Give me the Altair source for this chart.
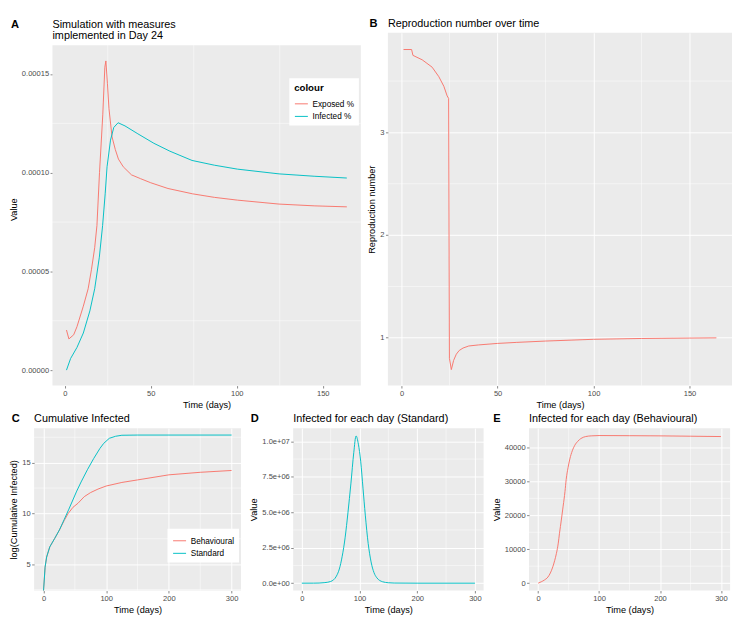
import altair as alt
import pandas as pd

FONT = "Liberation Sans"
RED = "#F8766D"
CYAN = "#00BFC4"
BG = "#EBEBEB"

# ---------------- Panel A: Simulation with measures ----------------
a_exp_day = [1, 2.4, 5.2, 7.1, 10.8, 13.6, 15.5, 17.4, 18.7, 20.2, 22.1, 23.3, 23.9,
             24.8, 25.7, 27.5, 29.4, 31.2, 34, 38.8, 44, 50, 60, 74.3, 87, 100.4,
             124.6, 145, 164]
a_exp_val = [2.03e-5, 1.58e-5, 1.79e-5, 2.2e-5, 3.24e-5, 4.12e-5, 5.08e-5, 6.2e-5,
             7.32e-5, 1.0e-4, 1.293e-4, 1.534e-4, 1.566e-4, 1.453e-4, 1.325e-4,
             1.181e-4, 1.117e-4, 1.069e-4, 1.03e-4, 9.89e-5, 9.7e-5, 9.49e-5, 9.2e-5,
             8.93e-5, 8.75e-5, 8.61e-5, 8.41e-5, 8.32e-5, 8.27e-5]
a_inf_day = [1, 3.4, 7.1, 10.8, 14.6, 17.4, 20.1, 22.0, 23.5, 24.6, 26.6, 28.5, 31,
             35, 42.5, 51.8, 61.1, 74, 87, 100.4, 124.6, 145, 164]
a_inf_val = [0, 5.9e-6, 1.15e-5, 1.88e-5, 3.0e-5, 4.12e-5, 5.72e-5, 7.32e-5, 8.93e-5,
             1.03e-4, 1.165e-4, 1.229e-4, 1.253e-4, 1.237e-4, 1.197e-4, 1.149e-4,
             1.109e-4, 1.062e-4, 1.038e-4, 1.018e-4, 9.94e-5, 9.82e-5, 9.73e-5]
a_series = ["Exposed %", "Infected %"]

# ---------------- Panel B: Reproduction number ----------------
b_day = [1, 5.2, 5.9, 10.7, 15.9, 19.4, 22.0, 23.7, 24.5, 24.9, 25.9, 27.1, 28.5, 30,
         32, 35, 40, 50, 60, 75, 100, 125, 150, 164]
b_val = [3.807, 3.807, 3.75, 3.707, 3.635, 3.542, 3.449, 3.356, 3.33, 0.80, 0.69,
         0.78, 0.84, 0.876, 0.90, 0.92, 0.93, 0.945, 0.955, 0.968, 0.985, 0.993,
         0.997, 0.999]

# ---------------- Panel C: Cumulative infected (log) ----------------
c_beh_day = [0, 2.5, 5, 10, 17.8, 25.4, 33, 39.4, 47, 55, 65, 75, 87, 100, 125, 150,
             200, 250, 300]
c_beh_val = [2.3, 4.7, 5.7, 6.7, 7.53, 8.37, 9.3, 10.0, 10.6, 11.0, 11.65, 12.05,
             12.4, 12.7, 13.05, 13.3, 13.8, 14.05, 14.23]
c_std_day = [0, 2.5, 5, 10, 17.8, 25.4, 33, 40, 53, 60, 70, 80, 90, 96, 105, 115,
             125, 150, 200, 300]
c_std_val = [2.3, 4.7, 5.7, 6.7, 7.53, 8.37, 9.4, 10.35, 12.2, 13.1, 14.3, 15.4,
             16.4, 16.9, 17.4, 17.6, 17.7, 17.72, 17.72, 17.72]
c_series = ["Behavioural", "Standard"]

# ---------------- Panel D: Infected each day (Standard) ----------------
d_day = [0, 20, 30, 40, 50, 60, 65, 70, 75, 80, 85, 90, 94, 98, 102, 106, 110, 115,
         120, 125, 130, 140, 150, 160, 200, 300]
d_val = [0, 2e3, 1e4, 4e4, 1.2e5, 5e5, 1.0e6, 1.9e6, 3.2e6, 5.0e6, 7.0e6, 9.2e6,
         1.038e7, 9.8e6, 8.6e6, 6.7e6, 4.8e6, 2.8e6, 1.5e6, 7.5e5, 3.8e5, 1.0e5,
         3e4, 1e4, 0, 0]

# ---------------- Panel E: Infected each day (Behavioural) ----------------
e_day = [0, 5, 10, 16, 20, 24, 27, 30, 33, 35, 38, 41, 44, 46, 49, 52, 56, 60, 65,
         70, 78, 87, 100, 150, 200, 250, 300]
e_val = [0, 400, 900, 1800, 3000, 4800, 6600, 8800, 11800, 14700, 18600, 22700,
         27000, 30600, 34000, 36600, 39000, 40600, 41800, 42600, 43200, 43400,
         43500, 43450, 43400, 43300, 43200]


def long_df(days_list, vals_list, names):
    rows = []
    for d_arr, v_arr, n in zip(days_list, vals_list, names):
        for d, v in zip(d_arr, v_arr):
            rows.append({"day": d, "val": v, "series": n})
    return pd.DataFrame(rows)


def enc_x(dom, vals, **kw):
    return alt.X("day:Q", scale=alt.Scale(domain=dom, nice=False, zero=False),
                 axis=alt.Axis(values=vals, title="Time (days)", format="d", **kw))


def enc_y(dom, vals, title, **kw):
    return alt.Y("val:Q", scale=alt.Scale(domain=dom, nice=False, zero=False),
                 axis=alt.Axis(values=vals, title=title, **kw))


def minor_rules(xs, ys, X, Y):
    xr = alt.Chart(pd.DataFrame({"day": xs})).mark_rule(
        color="white", strokeWidth=0.5).encode(x=X)
    yr = alt.Chart(pd.DataFrame({"val": ys})).mark_rule(
        color="white", strokeWidth=0.5).encode(y=Y)
    return [xr, yr]


def label(text, dx, dy, bold=False, size=11.2):
    return alt.Chart(pd.DataFrame({"t": [text]})).mark_text(
        align="left", baseline="alphabetic", fontWeight="bold" if bold else "normal",
        fontSize=size, font=FONT, color="black").encode(
        text="t:N", x=alt.value(dx), y=alt.value(dy))


# ---- A ----
# A shares its top row with B: its panel sits SHIFT_Y lower and its axis block is
# wider than C's, so the view is padded on the left/top and the grey panel is a rect.
SHIFT_X, SHIFT_Y = 19, 13
A_W = 319
B_H = 365
A_H = B_H - SHIFT_Y
a_xvis = [-7.15, 172.15]
a_yvis = [-7.85e-6, 1.645e-4]
a_xdom = [a_xvis[0] - SHIFT_X * (a_xvis[1] - a_xvis[0]) / A_W, a_xvis[1]]
a_ydom = [a_yvis[0], a_yvis[1] + SHIFT_Y * (a_yvis[1] - a_yvis[0]) / A_H]
XA = enc_x(a_xdom, [0, 50, 100, 150], titleX=SHIFT_X + A_W / 2)
YA = enc_y(a_ydom, [0, 5e-5, 1e-4, 1.5e-4], "Value", format=".5f", offset=-SHIFT_X)
a_panel = alt.Chart(pd.DataFrame({"day": [a_xvis[0]], "day2": [a_xvis[1]],
                                  "val": [a_yvis[0]], "val2": [a_yvis[1]]})).mark_rect(
    color=BG).encode(x=XA, x2="day2:Q", y=YA, y2="val2:Q")
a_df = long_df([a_exp_day, a_inf_day], [a_exp_val, a_inf_val], a_series)
a_line = alt.Chart(a_df).mark_line(strokeWidth=1, clip=True).encode(
    x=XA, y=YA,
    color=alt.Color("series:N", scale=alt.Scale(domain=a_series, range=[RED, CYAN]),
                    legend=alt.Legend(title="colour", orient="none",
                                      legendX=SHIFT_X + A_W - 74,
                                      legendY=SHIFT_Y + 34, fillColor="white", padding=5,
                                      symbolType="stroke", symbolSize=180,
                                      symbolStrokeWidth=1, titleFontSize=10,
                                      titleFontWeight="bold", titleFont=FONT,
                                      labelFont=FONT, labelFontSize=8.5,
                                      labelColor="black", rowPadding=1,
                                      titlePadding=4)),
    detail="series:N")
chart_a = alt.layer(
    a_panel,
    *minor_rules([25, 75, 125], [2.5e-5, 7.5e-5, 1.25e-4], XA, YA),
    a_line,
    label("A", SHIFT_X - 43, -5, bold=True, size=11.5),
    label("Simulation with measures", SHIFT_X, -5),
    label("implemented in Day 24", SHIFT_X, 6),
).properties(width=A_W + SHIFT_X, height=B_H,
             view=alt.ViewBackground(fill="white", stroke="white", strokeWidth=0))

# ---- B ----
B_W = 356
XB = enc_x([-7.15, 172.15], [0, 50, 100, 150])
YB = enc_y([0.534, 3.97], [1, 2, 3], "Reproduction number", format="d")
b_line = alt.Chart(pd.DataFrame({"day": b_day, "val": b_val})).mark_line(
    strokeWidth=1, color=RED, clip=True).encode(x=XB, y=YB)
chart_b = alt.layer(
    *minor_rules([25, 75, 125], [1.5, 2.5, 3.5], XB, YB),
    b_line,
    label("B", -19, -6, bold=True, size=11.5),
    label("Reproduction number over time", 0, -6),
).properties(width=B_W, height=B_H)

# ---- C ----
C_W, C_H = 214, 168
XC = enc_x([-15, 315], [0, 100, 200, 300])
YC = enc_y([2.4, 18.4], [5, 10, 15], "log(Cumulative Infected)", format="d")
c_df = long_df([c_beh_day, c_std_day], [c_beh_val, c_std_val], c_series)
c_line = alt.Chart(c_df).mark_line(strokeWidth=1, clip=True).encode(
    x=XC, y=YC,
    color=alt.Color("series:N", scale=alt.Scale(domain=c_series, range=[RED, CYAN]),
                    legend=alt.Legend(title=None, orient="none", legendX=C_W - 76,
                                      legendY=104, fillColor="white", padding=5,
                                      symbolType="stroke", symbolSize=180,
                                      symbolStrokeWidth=1, labelFont=FONT,
                                      labelFontSize=8.5, labelColor="black",
                                      rowPadding=1)),
    detail="series:N")
chart_c = alt.layer(
    *minor_rules([50, 150, 250], [2.5, 7.5, 12.5, 17.5], XC, YC),
    c_line,
    label("C", -23, -6, bold=True, size=11.5),
    label("Cumulative Infected", 0, -6),
).properties(width=C_W, height=C_H)

# ---- D ----
D_W, D_H = 197, 168
XD = enc_x([-15, 315], [0, 100, 200, 300])
YD = enc_y([-5.2e5, 1.093e7], [0, 2.5e6, 5e6, 7.5e6, 1e7], "Value",
           labelExpr="replace(format(datum.value, '.1e'), regexp('e\\\\+(\\\\d)$'), 'e+0$1')")
d_line = alt.Chart(pd.DataFrame({"day": d_day, "val": d_val})).mark_line(
    strokeWidth=1, color=CYAN, clip=True, interpolate="monotone").encode(x=XD, y=YD)
chart_d = alt.layer(
    *minor_rules([50, 150, 250], [1.25e6, 3.75e6, 6.25e6, 8.75e6], XD, YD),
    d_line,
    label("D", -44, -6, bold=True, size=11.5),
    label("Infected for each day (Standard)", 0, -6),
).properties(width=D_W, height=D_H)

# ---- E ----
E_W, E_H = 208, 168
XE = enc_x([-15, 315], [0, 100, 200, 300])
YE = enc_y([-2175, 45675], [0, 10000, 20000, 30000, 40000], "Value", format="d")
e_line = alt.Chart(pd.DataFrame({"day": e_day, "val": e_val})).mark_line(
    strokeWidth=1, color=RED, clip=True, interpolate="monotone").encode(x=XE, y=YE)
chart_e = alt.layer(
    *minor_rules([50, 150, 250], [5000, 15000, 25000, 35000], XE, YE),
    e_line,
    label("E", -37, -6, bold=True, size=11.5),
    label("Infected for each day (Behavioural)", 0, -6),
).properties(width=E_W, height=E_H)

top = alt.hconcat(chart_a, chart_b, spacing=5)
bottom = alt.hconcat(chart_c, chart_d, chart_e, spacing=7)

chart = alt.vconcat(top, bottom, spacing=4, padding=0).resolve_scale(
    color="independent"
).configure_view(fill=BG, stroke=None).configure_axis(
    labelFont=FONT, labelFontSize=7.8, labelColor="#4D4D4D",
    titleFont=FONT, titleFontSize=9.5, titleColor="black", titleFontWeight="normal",
    tickColor="#333333", tickSize=2.5, tickWidth=0.6, domain=False,
    gridColor="white", gridWidth=1, labelPadding=1.5, titlePadding=3
).configure_legend(labelFont=FONT, titleFont=FONT)

chart.save("out.html", embed_options={"renderer": "svg", "actions": False})
